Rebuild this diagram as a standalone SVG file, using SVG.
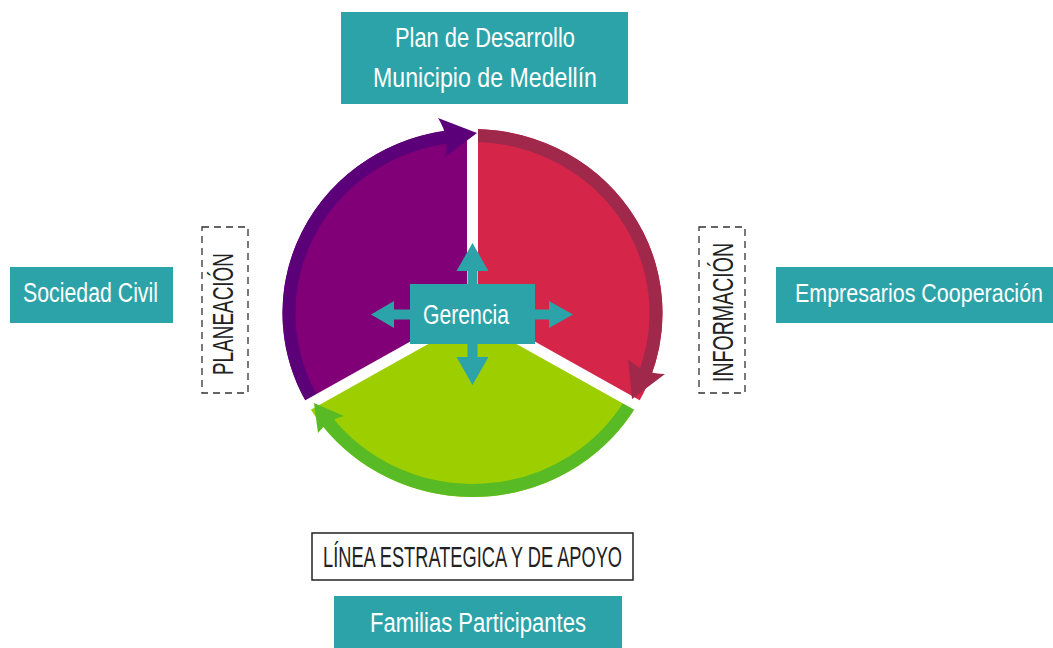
<svg xmlns="http://www.w3.org/2000/svg" width="1053" height="648" viewBox="0 0 1053 648">
<style>
.box{fill:#2ca3a8}
.wt{fill:#ffffff;font-family:"Liberation Sans Narrow","Liberation Sans",sans-serif;font-size:27px;text-anchor:middle}
.bt{fill:#222222;font-family:"Liberation Sans Narrow","Liberation Sans",sans-serif;font-size:29px;text-anchor:middle}
.dash{fill:none;stroke:#333333;stroke-width:1.3;stroke-dasharray:7 5}
.band{fill:none;stroke-width:13;stroke-linecap:butt}
.gap{stroke:#ffffff;stroke-width:11}
</style>
<rect width="1053" height="648" fill="#ffffff"/>
<g id="cycle">
<path d="M472.5,313 L472.5,129 A190,184 0 0 1 637.04,405 Z" fill="#d52549"/>
<path d="M472.5,313 L637.04,405 A190,184 0 0 1 307.96,405 Z" fill="#9dcf00"/>
<path d="M472.5,313 L307.96,405 A190,184 0 0 1 472.5,129 Z" fill="#820077"/>
<path class="band" stroke="#a0294b" d="M472.5,135.5 A183.5,177.5 0 0 1 643.8,376.6"/>
<path class="band" stroke="#58bb26" d="M631.4,401.75 A183.5,177.5 0 0 1 326.0,419.8"/>
<path class="band" stroke="#5b0079" d="M313.6,401.75 A183.5,177.5 0 0 1 450.1,136.8"/>
<line class="gap" x1="472.5" y1="313" x2="472.5" y2="118"/>
<line class="gap" x1="472.5" y1="313" x2="653.5" y2="414.2"/>
<line class="gap" x1="472.5" y1="313" x2="291.5" y2="414.2"/>
<path d="M477,133 L438,118 Q450,137 445,157 Z" fill="#5b0079"/>
<path d="M632,399 L628,359 Q643,374 665,374 Z" fill="#a0294b"/>
<path d="M314,403 L344,416 Q328,420 318,433 Z" fill="#58bb26"/>
</g>
<g id="connectors">
<path class="box" d="M467.5,284 L467.5,271 L456.5,271 L472.5,243 L488.5,271 L477.5,271 L477.5,284 Z"/>
<path class="box" d="M467.5,344 L467.5,357 L456.5,357 L472.5,385 L488.5,357 L477.5,357 L477.5,344 Z"/>
<path class="box" d="M410,309.5 L394,309.5 L394,301 L371,314.5 L394,328 L394,319.5 L410,319.5 Z"/>
<path class="box" d="M535,309.5 L549,309.5 L549,301 L573,314.5 L549,328 L549,319.5 L535,319.5 Z"/>
</g>
<g id="gerencia">
<rect class="box" x="410" y="284" width="125" height="60"/>
<text class="wt" x="466" y="324" textLength="86" lengthAdjust="spacingAndGlyphs">Gerencia</text>
</g>
<g id="plan">
<rect class="box" x="341" y="12" width="287" height="92"/>
<text class="wt" x="485" y="47" textLength="180" lengthAdjust="spacingAndGlyphs">Plan de Desarrollo</text>
<text class="wt" x="485" y="87" textLength="224" lengthAdjust="spacingAndGlyphs">Municipio de Medellín</text>
</g>
<g id="sociedad">
<rect class="box" x="10" y="267" width="163" height="56"/>
<text class="wt" x="90.5" y="302" textLength="135" lengthAdjust="spacingAndGlyphs">Sociedad Civil</text>
</g>
<g id="empresarios">
<rect class="box" x="776" y="267" width="277" height="56"/>
<text class="wt" x="1043" y="302" style="text-anchor:end;font-size:26px" textLength="248" lengthAdjust="spacingAndGlyphs">Empresarios Cooperación</text>
</g>
<g id="familias">
<rect class="box" x="334" y="596" width="288" height="52"/>
<text class="wt" x="478" y="632" textLength="216" lengthAdjust="spacingAndGlyphs">Familias Participantes</text>
</g>
<g id="linea">
<rect x="312" y="533" width="321" height="47" fill="#ffffff" stroke="#222222" stroke-width="1.5"/>
<text class="bt" x="472.5" y="567" textLength="299" lengthAdjust="spacingAndGlyphs">LÍNEA ESTRATEGICA Y DE APOYO</text>
</g>
<g id="planeacion">
<rect class="dash" x="202" y="227" width="46" height="166"/>
<text class="bt" transform="translate(233,314) rotate(-90)" x="0" y="0" textLength="122" lengthAdjust="spacingAndGlyphs">PLANEACIÓN</text>
</g>
<g id="informacion">
<rect class="dash" x="699" y="227" width="46" height="166"/>
<text class="bt" transform="translate(733,312.5) rotate(-90)" x="0" y="0" textLength="139" lengthAdjust="spacingAndGlyphs">INFORMACIÓN</text>
</g>
</svg>
